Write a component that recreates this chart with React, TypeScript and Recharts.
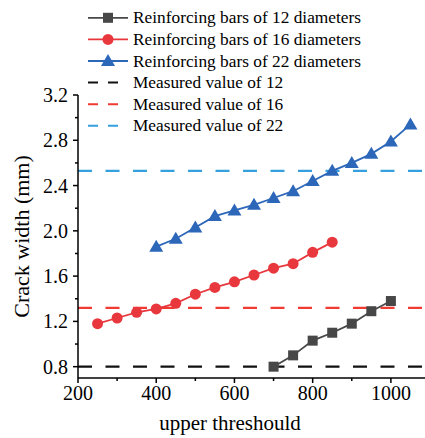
import { LineChart, Line, XAxis, YAxis, ReferenceLine, Legend } from "recharts";

const FONT = "'Liberation Serif', 'Times New Roman', Times, serif";

const thresholds12 = [700, 750, 800, 850, 900, 950, 1000];
const crackWidth12 = [0.8, 0.9, 1.03, 1.1, 1.18, 1.29, 1.38];

const thresholds16 = [250, 300, 350, 400, 450, 500, 550, 600, 650, 700, 750, 800, 850];
const crackWidth16 = [1.18, 1.23, 1.28, 1.31, 1.36, 1.44, 1.5, 1.55, 1.61, 1.67, 1.71, 1.81, 1.9];

const thresholds22 = [400, 450, 500, 550, 600, 650, 700, 750, 800, 850, 900, 950, 1000, 1050];
const crackWidth22 = [1.86, 1.93, 2.03, 2.13, 2.18, 2.23, 2.29, 2.35, 2.44, 2.53, 2.6, 2.68, 2.79, 2.94];

const measuredValues = [0.8, 1.32, 2.53];

const seriesNames = [
    "Reinforcing bars of 12 diameters",
    "Reinforcing bars of 16 diameters",
    "Reinforcing bars of 22 diameters",
];
const measuredNames = ["Measured value of 12", "Measured value of 16", "Measured value of 22"];

const xTicks = [200, 300, 400, 500, 600, 700, 800, 900, 1000, 1100];
const xMajorTicks = [200, 400, 600, 800, 1000];
const yTicks = [0.8, 1.0, 1.2, 1.4, 1.6, 1.8, 2.0, 2.2, 2.4, 2.6, 2.8, 3.0, 3.2];
const yMajorTicks = [0.8, 1.2, 1.6, 2.0, 2.4, 2.8, 3.2];

const COLORS = {
    s12: "#474747",
    s16: "#e8383d",
    s22: "#2d67b9",
    m12: "#111111",
    m16: "#f03a32",
    m22: "#35a0dd",
};

const toPoints = (xs: number[], ys: number[]) => xs.map((x, i) => ({ x, y: ys[i] }));
const data12 = toPoints(thresholds12, crackWidth12);
const data16 = toPoints(thresholds16, crackWidth16);
const data22 = toPoints(thresholds22, crackWidth22);

const DASH = "14 13.5";

function SquareDot(props: any) {
    const { cx, cy } = props;
    return <rect x={cx - 5} y={cy - 5} width={10} height={10} fill={COLORS.s12} />;
}

function CircleDot(props: any) {
    const { cx, cy } = props;
    return <circle cx={cx} cy={cy} r={5.5} fill={COLORS.s16} />;
}

function TriangleDot(props: any) {
    const { cx, cy } = props;
    return (
        <polygon
            points={`${cx},${cy - 7} ${cx - 7},${cy + 5} ${cx + 7},${cy + 5}`}
            fill={COLORS.s22}
        />
    );
}

function XTick(props: any) {
    const { x, y, payload } = props;
    const major = xMajorTicks.includes(payload.value);
    return (
        <g>
            <line x1={x} x2={x} y1={y} y2={y + (major ? 5 : 3)} stroke="#000" strokeWidth={1.5} />
            {major && (
                <text x={x} y={y + 22} textAnchor="middle" fontSize={20} fontFamily={FONT} fill="#000">
                    {payload.value}
                </text>
            )}
        </g>
    );
}

function YTick(props: any) {
    const { x, y, payload } = props;
    const major = yMajorTicks.includes(payload.value);
    return (
        <g>
            <line x1={x - (major ? 5 : 3)} x2={x} y1={y} y2={y} stroke="#000" strokeWidth={1.5} />
            {major && (
                <text x={x - 10} y={y + 7} textAnchor="end" fontSize={20} fontFamily={FONT} fill="#000">
                    {payload.value.toFixed(1)}
                </text>
            )}
        </g>
    );
}

const legendRows = [
    { name: seriesNames[0], color: COLORS.s12, marker: "square" },
    { name: seriesNames[1], color: COLORS.s16, marker: "circle" },
    { name: seriesNames[2], color: COLORS.s22, marker: "triangle" },
    { name: measuredNames[0], color: COLORS.m12, marker: "dash" },
    { name: measuredNames[1], color: COLORS.m16, marker: "dash" },
    { name: measuredNames[2], color: COLORS.m22, marker: "dash" },
];

const ROW_H = 21.6;

function LegendIcon({ color, marker, c }: { color: string; marker: string; c: number }) {
    if (marker === "dash") {
        return <line x1={0} x2={31} y1={c} y2={c} stroke={color} strokeWidth={2} strokeDasharray="10 10" />;
    }
    return (
        <g>
            <line x1={0} x2={40} y1={c} y2={c} stroke={color} strokeWidth={1.8} />
            {marker === "square" && <rect x={15} y={c - 5} width={10} height={10} fill={color} />}
            {marker === "circle" && <circle cx={20} cy={c} r={5.5} fill={color} />}
            {marker === "triangle" && (
                <polygon points={`20,${c - 7} 13,${c + 5} 27,${c + 5}`} fill={color} />
            )}
        </g>
    );
}

function ChartLegend() {
    return (
        <svg width={320} height={ROW_H * legendRows.length} style={{ display: "block" }}>
            {legendRows.map((row, i) => {
                const c = ROW_H * i + ROW_H / 2;
                const stretched = row.marker !== "dash";
                return (
                    <g key={row.name}>
                        <LegendIcon color={row.color} marker={row.marker} c={c} />
                        <text
                            x={45}
                            y={c + 5.5}
                            fontSize={17.3}
                            fontFamily={FONT}
                            fill="#000"
                            textLength={stretched ? 228 : undefined}
                            lengthAdjust={stretched ? "spacingAndGlyphs" : undefined}
                        >
                            {row.name}
                        </text>
                    </g>
                );
            })}
        </svg>
    );
}

function XTitle(props: any) {
    const { viewBox } = props;
    return (
        <text x={viewBox.x + 152} y={viewBox.y + 52} textAnchor="middle" fontSize={21} fontFamily={FONT} fill="#000">
            upper threshould
        </text>
    );
}

function YTitle(props: any) {
    const { viewBox } = props;
    const x = 29;
    const y = viewBox.y + viewBox.height / 2;
    return (
        <text
            x={x}
            y={y}
            transform={`rotate(-90, ${x}, ${y})`}
            textAnchor="middle"
            fontSize={22}
            fontFamily={FONT}
            fill="#000"
        >
            Crack width (mm)
        </text>
    );
}

export default function App() {
    return (
        <div style={{ position: "fixed", left: 0, top: 0, width: 425, height: 438, overflow: "hidden", background: "#fff" }}>
            <LineChart width={432} height={438} margin={{ top: 95, right: 2, left: 0, bottom: 0 }}>
                <XAxis
                    type="number"
                    dataKey="x"
                    domain={[200, 1100]}
                    ticks={xTicks}
                    interval={0}
                    height={60}
                    axisLine={{ stroke: "#000", strokeWidth: 1.5 }}
                    tickLine={false}
                    tickSize={0}
                    tickMargin={0}
                    tick={<XTick />}
                    label={<XTitle />}
                    allowDataOverflow
                />
                <YAxis
                    type="number"
                    domain={[0.7, 3.2]}
                    ticks={yTicks}
                    interval={0}
                    width={78}
                    axisLine={{ stroke: "#000", strokeWidth: 1.5 }}
                    tickLine={false}
                    tickSize={0}
                    tickMargin={0}
                    tick={<YTick />}
                    label={<YTitle />}
                    allowDataOverflow
                />
                <Legend
                    layout="vertical"
                    verticalAlign="middle"
                    align="center"
                    content={<ChartLegend />}
                    wrapperStyle={{ top: 7, left: 88, width: 320 }}
                />
                <ReferenceLine y={measuredValues[0]} stroke={COLORS.m12} strokeWidth={2.2} strokeDasharray={DASH} />
                <ReferenceLine y={measuredValues[1]} stroke={COLORS.m16} strokeWidth={2.2} strokeDasharray={DASH} />
                <ReferenceLine y={measuredValues[2]} stroke={COLORS.m22} strokeWidth={2.2} strokeDasharray={DASH} />
                <Line
                    data={data12}
                    dataKey="y"
                    name={seriesNames[0]}
                    stroke={COLORS.s12}
                    strokeWidth={1.8}
                    dot={(p: any) => <SquareDot key={p.index} {...p} />}
                    isAnimationActive={false}
                />
                <Line
                    data={data16}
                    dataKey="y"
                    name={seriesNames[1]}
                    stroke={COLORS.s16}
                    strokeWidth={1.8}
                    dot={(p: any) => <CircleDot key={p.index} {...p} />}
                    isAnimationActive={false}
                />
                <Line
                    data={data22}
                    dataKey="y"
                    name={seriesNames[2]}
                    stroke={COLORS.s22}
                    strokeWidth={1.8}
                    dot={(p: any) => <TriangleDot key={p.index} {...p} />}
                    isAnimationActive={false}
                />
            </LineChart>
        </div>
    );
}
